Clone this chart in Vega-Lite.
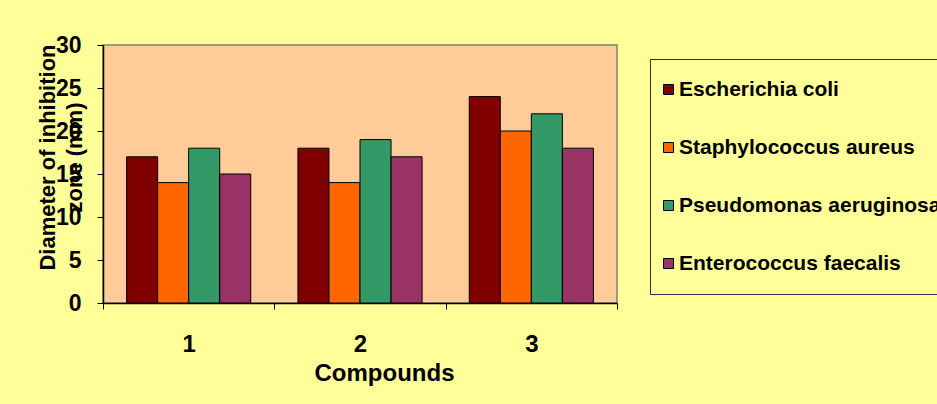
{
  "$schema": "https://vega.github.io/schema/vega-lite/v6.json",
  "width": 514,
  "height": 258,
  "autosize": {"type": "none"},
  "padding": {"left": 103, "top": 45, "right": 320, "bottom": 101},
  "background": "#FFFF99",
  "data": {
    "values": [
      {"compound": "1", "organism": "Escherichia coli", "zone": 17},
      {"compound": "1", "organism": "Staphylococcus aureus", "zone": 14},
      {"compound": "1", "organism": "Pseudomonas aeruginosa", "zone": 18},
      {"compound": "1", "organism": "Enterococcus faecalis", "zone": 15},
      {"compound": "2", "organism": "Escherichia coli", "zone": 18},
      {"compound": "2", "organism": "Staphylococcus aureus", "zone": 14},
      {"compound": "2", "organism": "Pseudomonas aeruginosa", "zone": 19},
      {"compound": "2", "organism": "Enterococcus faecalis", "zone": 17},
      {"compound": "3", "organism": "Escherichia coli", "zone": 24},
      {"compound": "3", "organism": "Staphylococcus aureus", "zone": 20},
      {"compound": "3", "organism": "Pseudomonas aeruginosa", "zone": 22},
      {"compound": "3", "organism": "Enterococcus faecalis", "zone": 18}
    ]
  },
  "mark": {"type": "bar", "stroke": "#000000", "strokeWidth": 1},
  "encoding": {
    "x": {
      "field": "compound",
      "type": "nominal",
      "scale": {"paddingInner": 0, "paddingOuter": 0},
      "axis": {
        "title": "Compounds",
        "titleX": 281,
        "labelAngle": 0,
        "tickBand": "extent",
        "domainColor": "#000000",
        "domainWidth": 1.5,
        "tickColor": "#000000",
        "tickSize": 6,
        "labelPadding": 23,
        "labelFontSize": 24,
        "labelFontWeight": "bold",
        "labelColor": "#000000",
        "titleFontSize": 24,
        "titleFontWeight": "bold",
        "titleColor": "#000000",
        "titlePadding": 5
      }
    },
    "xOffset": {
      "field": "organism",
      "type": "nominal",
      "scale": {
        "domain": ["Escherichia coli", "Staphylococcus aureus", "Pseudomonas aeruginosa", "Enterococcus faecalis"],
        "paddingInner": 0,
        "paddingOuter": 0.76
      }
    },
    "y": {
      "field": "zone",
      "type": "quantitative",
      "scale": {"domain": [0, 30]},
      "axis": {
        "values": [0, 5, 10, 15, 20, 25, 30],
        "grid": false,
        "title": ["Diameter of inhibition", "zone (mm)"],
        "titleX": -56,
        "titleY": 112,
        "titleAngle": -90,
        "titleAlign": "center",
        "titleBaseline": "middle",
        "titleLineHeight": 27,
        "titleFontSize": 22,
        "titleFontWeight": "bold",
        "titleColor": "#000000",
        "domainColor": "#000000",
        "domainWidth": 1.5,
        "tickColor": "#000000",
        "tickSize": 6,
        "labelPadding": 16,
        "labelFontSize": 23,
        "labelFontWeight": "bold",
        "labelColor": "#000000"
      }
    },
    "color": {
      "field": "organism",
      "type": "nominal",
      "scale": {
        "domain": ["Escherichia coli", "Staphylococcus aureus", "Pseudomonas aeruginosa", "Enterococcus faecalis"],
        "range": ["#800000", "#FF6600", "#339966", "#993366"]
      },
      "legend": {
        "title": null,
        "orient": "none",
        "legendX": 547,
        "legendY": 14,
        "fillColor": "#FFFF99",
        "strokeColor": "#333333",
        "padding": 20,
        "symbolType": "square",
        "symbolSize": 100,
        "symbolOffset": -12,
        "symbolStrokeColor": "#000000",
        "symbolStrokeWidth": 1,
        "symbolOpacity": 1,
        "labelFontSize": 21,
        "labelFontWeight": "bold",
        "labelColor": "#000000",
        "labelOffset": 0,
        "labelLimit": 400,
        "rowPadding": 36
      }
    }
  },
  "config": {
    "font": "Liberation Sans",
    "view": {"fill": "#FFCC99", "stroke": "#808080", "strokeWidth": 1.5}
  }
}
